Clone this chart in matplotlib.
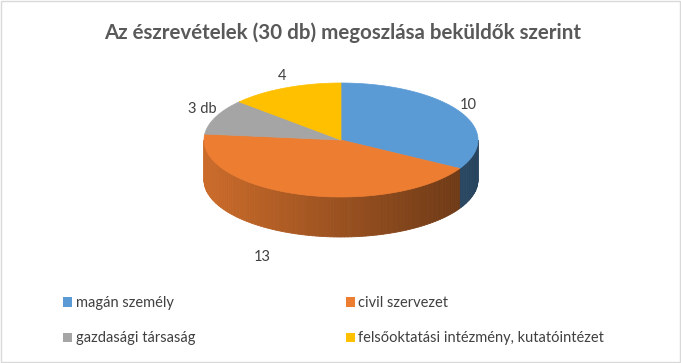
import numpy as np
import matplotlib
matplotlib.use("Agg")
import matplotlib.pyplot as plt
from matplotlib.patches import Polygon, Rectangle, Patch
from matplotlib.colors import to_rgb

categories = ["magán személy", "civil szervezet", "gazdasági társaság",
              "felsőoktatási intézmény, kutatóintézet"]
values = [10, 13, 3, 4]
labels = ["10", "13", "3 db", "4"]
colors = ["#5B9BD5", "#ED7D31", "#A5A5A5", "#FFC000"]
title = "Az észrevételek (30 db) megoszlása beküldők szerint"

W, H = 681, 363
fig = plt.figure(figsize=(W / 100, H / 100), dpi=100)
ax = fig.add_axes([0, 0, 1, 1])
ax.set_xlim(0, W)
ax.set_ylim(H, 0)
ax.axis("off")

FONT = ["Lato", "DejaVu Sans"]
txtcol = "#404040"

# border
ax.add_patch(Rectangle((0.5, 0.5), W - 1.5, H - 1.5, fill=False,
                       edgecolor="#d9d9d9", lw=1.0))

cx, cy, a, b, depth = 341, 140, 137, 57, 40

def px(t):
    return cx + a * np.cos(np.radians(t))

def py(t):
    return cy - b * np.sin(np.radians(t))

total = sum(values)
cum = np.concatenate([[0], np.cumsum(values)])
starts = 90 - 360 * cum[:-1] / total
ends = 90 - 360 * cum[1:] / total

# side walls (front half: angles in (-180, 0))
for s, e, c in zip(starts, ends, colors):
    base = np.array(to_rgb(c))
    hi, lo = s, e
    for shift in (0, -360, 360):
        h2, l2 = hi + shift, lo + shift
        a0, a1 = max(l2, -180), min(h2, 0)
        if a1 > a0:
            ts = np.linspace(a0, a1, max(2, int((a1 - a0) / 1.5) + 1))
            for t0, t1 in zip(ts[:-1], ts[1:]):
                tm = 0.5 * (t0 + t1)
                f = 0.86 - 0.42 * (np.cos(np.radians(tm)) + 1) / 2
                col = np.clip(base * f, 0, 1)
                poly = [(px(t0), py(t0)), (px(t1), py(t1)),
                        (px(t1), py(t1) + depth), (px(t0), py(t0) + depth)]
                ax.add_patch(Polygon(poly, closed=True, facecolor=col,
                                     edgecolor=col, lw=0.6, zorder=2))

# top faces
for s, e, c in zip(starts, ends, colors):
    ts = np.linspace(s, e, 200)
    pts = [(cx, cy)] + [(px(t), py(t)) for t in ts]
    ax.add_patch(Polygon(pts, closed=True, facecolor=c, edgecolor=c,
                         lw=0.5, zorder=3))

# data labels (outside end, with small placement offsets)
label_offsets = [(-13, -1), (-29, 13), (9, -4), (7, -3)]
for s, e, lab, (dx, dy) in zip(starts, ends, labels, label_offsets):
    tm = 0.5 * (s + e)
    r = 1.18
    x = cx + a * r * np.cos(np.radians(tm))
    y = cy - b * r * np.sin(np.radians(tm))
    if np.sin(np.radians(tm)) < 0:
        y += depth
    ax.text(x + dx, y + dy, lab, ha="center", va="center", fontsize=10.5,
            color=txtcol, family=FONT, zorder=5)

# title
ax.text(W / 2 + 2, 33, title, ha="center", va="center", fontsize=14.8,
        fontweight="bold", color="#595959", family=FONT)

# legend
order = [0, 2, 1, 3]
handles = [Patch(facecolor=colors[i], edgecolor="none") for i in order]
leg = fig.legend(handles, [categories[i] for i in order], ncol=2,
                 loc="upper left", bbox_to_anchor=(50 / W, 1 - 283 / H),
                 frameon=False, handlelength=0.6, handleheight=0.6,
                 handletextpad=0.25, columnspacing=10.35, labelspacing=1.45,
                 prop={"family": FONT, "size": 10.5})
for t in leg.get_texts():
    t.set_color(txtcol)

fig.savefig("out.png", dpi=100)
